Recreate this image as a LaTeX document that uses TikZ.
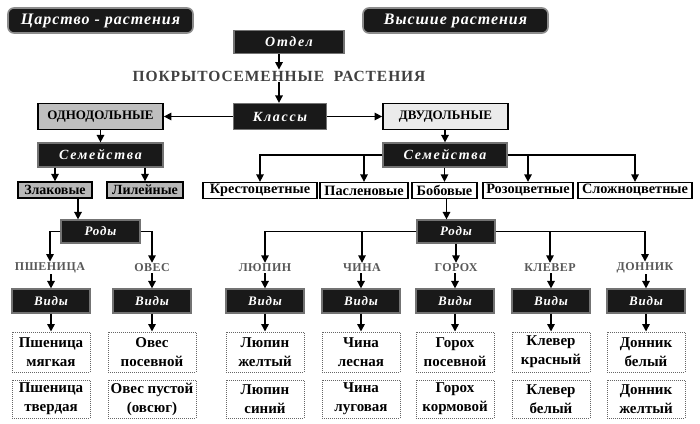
\documentclass[tikz,border=0pt]{standalone}
\usepackage{fontspec}
\setmainfont{Liberation Serif}
\newfontfamily\spfont[LetterSpace=6]{Liberation Serif}
\newfontfamily\wdfont[LetterSpace=12]{Liberation Serif}
\newfontfamily\gnfont[LetterSpace=4]{Liberation Serif}
\usetikzlibrary{arrows.meta,calc}
\begin{document}
\begin{tikzpicture}[x=1pt,y=-1pt,
  arr/.style={line width=1.5pt,-{Triangle[width=7.5pt,length=7.5pt]}},
  dark/.style={fill=black!90,draw=black!55,line width=1.2pt,text=white,inner sep=0pt,
    font=\spfont\bfseries\itshape\fontsize{13}{13}\selectfont},
  wide/.style={dark,font=\wdfont\bfseries\itshape\fontsize{14}{14}\selectfont},
  pill/.style={dark,rounded corners=6pt,draw=black!45,line width=1.6pt,
    font=\spfont\bfseries\itshape\fontsize{16}{16}\selectfont,minimum width=185pt,minimum height=25pt},
  cls/.style={draw=black,line width=1.8pt,inner sep=0pt,minimum width=125pt,minimum height=26pt,
    font=\bfseries\fontsize{13}{13}\selectfont},
  grp/.style={draw=black,line width=1.3pt,fill=black!28,inner sep=0pt,minimum height=16pt,
    font=\bfseries\fontsize{14}{14}\selectfont},
  fam/.style={draw=black,line width=1.3pt,fill=white,inner sep=0pt,minimum height=16pt,
    font=\bfseries\fontsize{14.3}{14.3}\selectfont},
  gen/.style={text=black!65,inner sep=1pt,font=\gnfont\bfseries\fontsize{12}{12}\selectfont},
  vid/.style={dark,minimum width=78pt,minimum height=24pt},
  sp/.style={draw=black!60,densely dotted,line width=1pt,fill=white,inner sep=0pt,align=center,
    minimum width=78pt,font=\bfseries\fontsize{15}{19}\selectfont}
]
\fill[white] (0,0) rectangle (700,423);
\useasboundingbox (0,0) rectangle (700,423);

% headers
\node[pill] (kingdom) at (100.5,20.5) {Царство - растения};
\node[pill] (higher) at (455.5,20.5) {Высшие растения};

\node[wide,minimum width=110pt,minimum height=23pt] (otdel) at (289,42) {Отдел};
\node[text=black!75,inner sep=1pt,font=\spfont\bfseries\fontsize{15.5}{15.5}\selectfont] (title) at (279,76) {ПОКРЫТОСЕМЕННЫЕ\ \ РАСТЕНИЯ};
\node[wide,minimum width=93pt,minimum height=26pt] (klassy) at (280,116.5) {Классы};

\node[cls,fill=black!25] (odno) at (100.5,116.5) {ОДНОДОЛЬНЫЕ};
\node[cls,fill=black!8] (dvu) at (445.5,116.5) {ДВУДОЛЬНЫЕ};

% families
\node[wide,minimum width=125pt,minimum height=24pt] (semL) at (100.5,155) {Семейства};
\node[wide,minimum width=124pt,minimum height=24pt] (semR) at (445,155) {Семейства};

\node[grp,minimum width=74pt] (zlak) at (55,190) {Злаковые};
\node[grp,minimum width=76pt] (lil) at (145,190) {Лилейные};

\node[fam,minimum width=114pt] (kres) at (260,190.5) {Крестоцветные};
\node[fam,minimum width=88pt] (pasl) at (364,190.5) {Пасленовые};
\node[fam,minimum width=65pt] (bob) at (444.5,190.5) {Бобовые};
\node[fam,minimum width=90pt] (roz) at (528,190.5) {Розоцветные};
\node[fam,minimum width=114pt] (slozh) at (635,190.5) {Сложноцветные};

% genera
\node[dark,minimum width=79pt,minimum height=23pt] (rodyL) at (100.5,231.5) {Роды};
\node[dark,minimum width=78pt,minimum height=23pt] (rodyR) at (456,231.5) {Роды};

\node[gen] (g1) at (50,268) {ПШЕНИЦА};
\node[gen] (g2) at (152,268) {ОВЕС};
\node[gen] (g3) at (265,268) {ЛЮПИН};
\node[gen] (g4) at (362,268) {ЧИНА};
\node[gen] (g5) at (456,268) {ГОРОХ};
\node[gen] (g6) at (550,268) {КЛЕВЕР};
\node[gen] (g7) at (645,268) {ДОННИК};

% species
\foreach \i/\x in {1/51,2/152,3/265,4/361,5/455,6/551,7/646}{
  \node[vid] (v\i) at (\x,301) {Виды};
}
\node[sp,minimum height=40pt] (a1) at (51,352) {Пшеница\\мягкая};
\node[sp,minimum height=40pt,minimum width=88pt] (a2) at (152,352) {Овес\\посевной};
\node[sp,minimum height=40pt] (a3) at (265,352) {Люпин\\желтый};
\node[sp,minimum height=40pt] (a4) at (361,352) {Чина\\лесная};
\node[sp,minimum height=40pt] (a5) at (455,352) {Горох\\посевной};
\node[sp,minimum height=40pt] (a6) at (551,352) {Клевер\\красный};
\node[sp,minimum height=40pt] (a7) at (646,352) {Донник\\белый};

\node[sp,minimum height=38pt] (b1) at (51,399) {Пшеница\\твердая};
\node[sp,minimum height=38pt,minimum width=88pt] (b2) at (152,399) {Овес пустой\\(овсюг)};
\node[sp,minimum height=38pt] (b3) at (265,399) {Люпин\\синий};
\node[sp,minimum height=38pt] (b4) at (361,399) {Чина\\луговая};
\node[sp,minimum height=38pt] (b5) at (455,399) {Горох\\кормовой};
\node[sp,minimum height=38pt] (b6) at (551,399) {Клевер\\белый};
\node[sp,minimum height=38pt] (b7) at (646,399) {Донник\\желтый};

% connectors
\draw[arr] (otdel.south -| title.north) -- (title.north);
\draw[arr] (title.south) -- (klassy.north -| title.south);
\draw[arr] (klassy.west) -- (odno.east);
\draw[arr] (klassy.east) -- (dvu.west);

\draw[arr] (odno.south) -- (semL.north);
\draw[arr] (semL.south -| zlak.north) -- (zlak.north);
\draw[arr] (semL.south -| lil.north) -- (lil.north);
\draw[arr] ([xshift=23pt]zlak.south) -- ([xshift=23pt]zlak.south |- rodyL.north);
\draw[arr] (rodyL.west) -| (g1.north);
\draw[arr] (rodyL.east) -| (g2.north);

\draw[arr] (dvu.south -| semR.north) -- (semR.north);
\draw[arr] (semR.west) -| (kres.north);
\draw[arr] (semR.west) -| (pasl.north);
\draw[arr] (semR.south -| bob.north) -- (bob.north);
\draw[arr] (semR.east) -| (roz.north);
\draw[arr] (semR.east) -| (slozh.north);
\draw[arr] ([xshift=2pt]bob.south) -- ([xshift=2pt]bob.south |- rodyR.north);
\draw[arr] (rodyR.west) -| (g3.north);
\draw[arr] (rodyR.west) -| (g4.north);
\draw[arr] (rodyR.south -| g5.north) -- (g5.north);
\draw[arr] (rodyR.east) -| (g6.north);
\draw[arr] (rodyR.east) -| (g7.north);

\foreach \i in {1,...,7}{
  \draw[arr] (g\i.south -| v\i.north) -- (v\i.north);
  \draw[arr] (v\i.south) -- (a\i.north);
}
\end{tikzpicture}
\end{document}
